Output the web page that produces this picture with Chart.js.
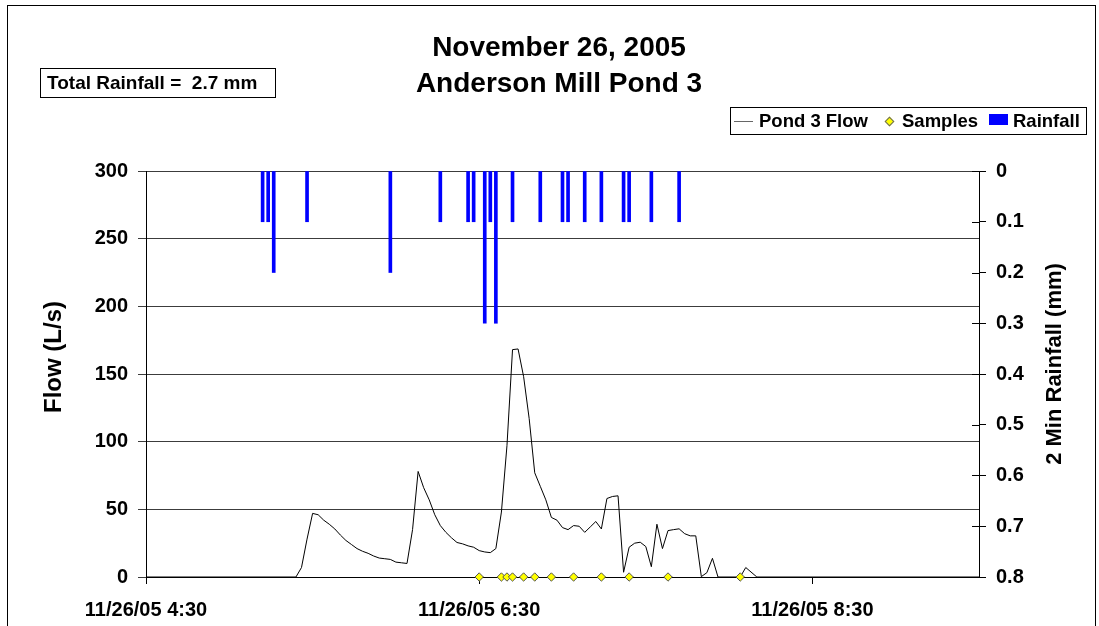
<!DOCTYPE html>
<html>
<head>
<meta charset="utf-8">
<script src="https://cdn.jsdelivr.net/npm/chart.js@4.4.1/dist/chart.umd.min.js"></script>
<style>
  html, body { margin:0; padding:0; background:#fff; }
  #wrap { position:relative; width:1099px; height:626px; overflow:hidden; background:#fff;
          font-family:"Liberation Sans", Arial, sans-serif; font-weight:bold; color:#000; }
  #c { position:absolute; left:0; top:0; }
  .abs { position:absolute; white-space:nowrap; }
  #frame { left:7px; top:5px; width:1089px; height:700px; border:1px solid #000; box-sizing:border-box; }
  #title { left:0; top:29px; width:1118px; text-align:center; font-size:28px; line-height:36px; }
  #box { left:40px; top:68px; width:236px; height:30px; border:1px solid #000; box-sizing:border-box;
         font-size:19px; line-height:28px; padding-left:6px; background:#fff; }
  #legend { left:730px; top:107px; width:357px; height:28px; border:1px solid #000; box-sizing:border-box;
            background:#fff; font-size:18.5px; }
</style>
</head>
<body>
<div id="wrap">
  <canvas id="c" width="1099" height="626"></canvas>
  <div id="frame" class="abs"></div>
  <div id="title" class="abs">November 26, 2005<br>Anderson Mill Pond 3</div>
  <div id="box" class="abs">Total Rainfall =&nbsp; 2.7 mm</div>
  <div id="legend" class="abs">
    <div class="abs" style="left:3px;top:13px;width:19px;height:1px;background:#666;"></div>
    <div class="abs" style="left:28px;top:2px;line-height:22px;">Pond 3 Flow</div>
    <div class="abs" style="left:155px;top:10px;width:5px;height:5px;background:#ff0;border:1px solid #666;transform:rotate(45deg);"></div>
    <div class="abs" style="left:171px;top:2px;line-height:22px;">Samples</div>
    <div class="abs" style="left:258px;top:6px;width:19px;height:11px;background:#00f;"></div>
    <div class="abs" style="left:282px;top:2px;line-height:22px;">Rainfall</div>
  </div>
</div>
<script>
// minutes after 11/26/05 4:30
const xTickMinutes = [0, 120, 240];
const xTickLabels = ['11/26/05 4:30', '11/26/05 6:30', '11/26/05 8:30'];
const flowTicks = [0, 50, 100, 150, 200, 250, 300];
const rainTicks = [0, 0.1, 0.2, 0.3, 0.4, 0.5, 0.6, 0.7, 0.8];

const flowMinutes = [0, 54, 56, 58, 60, 62, 64, 66, 68, 70, 72, 74, 76, 78, 80, 82, 84, 86, 88, 90,
  92, 94, 96, 98, 100, 102, 104, 106, 108, 110, 112, 114, 116, 118, 120, 122, 124, 126, 128, 130,
  132, 134, 136, 138, 140, 142, 144, 146, 148, 150, 152, 154, 156, 158, 160, 162, 164, 166, 168, 170,
  172, 174, 176, 178, 180, 182, 184, 186, 188, 190, 192, 194, 196, 198, 200, 202, 204, 206, 214, 216,
  220, 300];
const flowValues = [0, 0, 7, 28, 47, 46, 42, 39, 35.5, 31, 27, 24, 21, 19, 17.5, 15.5, 14, 13.5, 13, 11,
  10.5, 10, 35, 78, 66, 57, 46, 38, 33, 29, 25.5, 24.5, 23, 22, 19.5, 18.5, 18, 21, 48, 97,
  168, 168.5, 148, 117, 77, 67, 57, 44, 42, 36.5, 35, 38, 37.5, 33, 37, 41, 35.5, 58, 59.5, 60,
  3.5, 22, 25, 25.7, 22.5, 7.6, 39, 21, 34.3, 35, 35.6, 32, 30.4, 30.4, 0.3, 3.2, 13.8, 0, 0, 7,
  0, 0];

const sampleMinutes = [120, 128, 130, 132, 136, 140, 146, 154, 164, 174, 188, 214];
const sampleValues  = [0, 0, 0, 0, 0, 0, 0, 0, 0, 0, 0, 0];

const rainMinutes = [42, 44, 46, 58, 88, 106, 116, 118, 122, 124, 126, 132, 142, 150, 152, 158, 164, 172, 174, 182, 192];
const rainValues  = [0.1, 0.1, 0.2, 0.1, 0.2, 0.1, 0.1, 0.1, 0.3, 0.1, 0.3, 0.1, 0.1, 0.1, 0.1, 0.1, 0.1, 0.1, 0.1, 0.1, 0.1];

const zip = (xs, ys) => xs.map((x, i) => ({ x: x, y: ys[i] }));

Chart.defaults.font.family = '"Liberation Sans", Arial, sans-serif';
Chart.defaults.font.weight = 'bold';
Chart.defaults.color = '#000';

const extras = {
  id: 'extras',
  afterDraw(chart) {
    const ctx = chart.ctx;
    const yr = chart.scales.yRain;
    ctx.save();
    ctx.strokeStyle = '#000';
    ctx.lineWidth = 1;
    rainTicks.forEach(v => {
      const y = Math.round(yr.getPixelForValue(v)) + 0.5;
      ctx.beginPath();
      ctx.moveTo(yr.left - 7, y);
      ctx.lineTo(yr.left, y);
      ctx.stroke();
    });
    ctx.fillStyle = '#000';
    ctx.font = 'bold 24px "Liberation Sans", Arial, sans-serif';
    ctx.textAlign = 'center';
    ctx.textBaseline = 'middle';
    ctx.translate(54, 357);
    ctx.rotate(-Math.PI / 2);
    ctx.fillText('Flow (L/s)', 0, 0);
    ctx.restore();
    ctx.save();
    ctx.fillStyle = '#000';
    ctx.font = 'bold 22px "Liberation Sans", Arial, sans-serif';
    ctx.textAlign = 'center';
    ctx.textBaseline = 'middle';
    ctx.translate(1055, 364);
    ctx.rotate(-Math.PI / 2);
    ctx.fillText('2 Min Rainfall (mm)', 0, 0);
    ctx.restore();
  }
};

new Chart(document.getElementById('c'), {
  type: 'bar',
  data: {
    datasets: [
      {
        type: 'line', label: 'Samples', data: zip(sampleMinutes, sampleValues),
        xAxisID: 'x', yAxisID: 'yFlow', showLine: false,
        pointStyle: 'rectRot', pointRadius: 4.2, pointBackgroundColor: '#ffff00',
        pointBorderColor: '#555', pointBorderWidth: 1, clip: false, order: 0
      },
      {
        type: 'line', label: 'Pond 3 Flow', data: zip(flowMinutes, flowValues),
        xAxisID: 'x', yAxisID: 'yFlow', borderColor: '#000', borderWidth: 1,
        pointRadius: 0, tension: 0, fill: false, clip: false, order: 1
      },
      {
        type: 'bar', label: 'Rainfall', data: zip(rainMinutes, rainValues),
        xAxisID: 'x', yAxisID: 'yRain', backgroundColor: '#0000ff',
        barThickness: 3, borderWidth: 0, order: 2
      }
    ]
  },
  options: {
    responsive: false,
    animation: false,
    events: [],
    layout: { padding: { top: 171, left: 0, right: 0, bottom: 0 } },
    plugins: { legend: { display: false }, title: { display: false }, tooltip: { enabled: false } },
    scales: {
      x: {
        type: 'linear', position: 'bottom', min: 0, max: 300, offset: false,
        afterFit: s => { s.height = 49; },
        afterBuildTicks: s => { s.ticks = xTickMinutes.map(v => ({ value: v })); },
        ticks: {
          autoSkip: false, maxRotation: 0, padding: 14,
          font: { size: 20, weight: 'bold' },
          callback: (v) => { const i = xTickMinutes.indexOf(v); return i >= 0 ? xTickLabels[i] : ''; }
        },
        grid: { offset: false, drawOnChartArea: false, drawTicks: true, tickLength: 7, color: '#000' },
        border: { display: true, color: '#000' }
      },
      yFlow: {
        type: 'linear', position: 'left', min: 0, max: 300,
        afterFit: s => { s.width = 146; },
        afterBuildTicks: s => { s.ticks = flowTicks.map(v => ({ value: v })); },
        ticks: { padding: 10, font: { size: 20, weight: 'bold' } },
        grid: { offset: false, color: '#3c3c3c', tickLength: 8, drawTicks: true },
        border: { display: true, color: '#000' }
      },
      yRain: {
        type: 'linear', position: 'right', min: 0, max: 0.8, reverse: true,
        afterFit: s => { s.width = 120; },
        afterBuildTicks: s => { s.ticks = rainTicks.map(v => ({ value: v })); },
        ticks: {
          padding: 10, font: { size: 20, weight: 'bold' },
          callback: v => (v === 0 ? '0' : Number(v).toFixed(1))
        },
        grid: { offset: false, drawOnChartArea: false, tickLength: 7, color: '#000' },
        border: { display: true, color: '#000' }
      }
    }
  },
  plugins: [extras]
});
</script>
</body>
</html>
